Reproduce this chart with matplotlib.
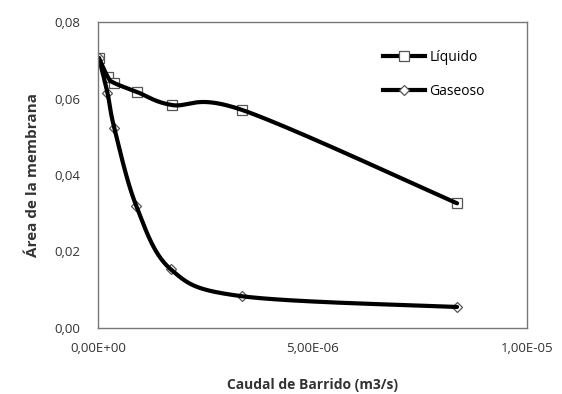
import numpy as np
import matplotlib
matplotlib.use("Agg")
import matplotlib.pyplot as plt
from matplotlib.lines import Line2D

# Data
caudal_liq = [2.0e-8, 2.3e-7, 3.7e-7, 9.1e-7, 1.72e-6, 3.36e-6, 8.37e-6]
area_liq = [0.0706, 0.0656, 0.0641, 0.0617, 0.0583, 0.0570, 0.0326]
caudal_gas = [2.0e-8, 2.2e-7, 3.8e-7, 8.9e-7, 1.70e-6, 3.36e-6, 8.37e-6]
area_gas = [0.0706, 0.0615, 0.0523, 0.0320, 0.0153, 0.0083, 0.0055]
xticks = [0, 5e-6, 1e-5]
xtick_labels = ["0,00E+00", "5,00E-06", "1,00E-05"]
yticks = [0, 0.02, 0.04, 0.06, 0.08]
ytick_labels = ["0,00", "0,02", "0,04", "0,06", "0,08"]
series_names = ["Líquido", "Gaseoso"]


def excel_smooth(x, y, n=80):
    P = np.column_stack([x, y]).astype(float)
    m = len(P)
    out = [P[0]]
    for i in range(m - 1):
        p0 = P[i - 1] if i > 0 else P[i]
        p1 = P[i]
        p2 = P[i + 1]
        p3 = P[i + 2] if i + 2 < m else P[i + 1]
        c1 = p1 + (p2 - p0) / 6.0
        c2 = p2 - (p3 - p1) / 6.0
        t = np.linspace(0, 1, n)[1:, None]
        seg = ((1 - t) ** 3) * p1 + 3 * ((1 - t) ** 2) * t * c1 + 3 * (1 - t) * t ** 2 * c2 + t ** 3 * p2
        out.extend(seg)
    out = np.array(out)
    return out[:, 0], out[:, 1]


plt.rcParams['font.family'] = ['Open Sans', 'DejaVu Sans']

W, H = 562, 394
fig = plt.figure(figsize=(W / 100, H / 100), dpi=100)
ax = fig.add_axes([98 / W, 1 - 328 / H, (527 - 98) / W, (328 - 22) / H])

lw = 3.0
mk_edge = '#555555'
sx, sy = excel_smooth(caudal_liq, area_liq)
ax.plot(sx, sy, color='black', lw=lw, zorder=2, solid_capstyle='round')
ax.plot(caudal_liq, area_liq, ls='none', marker='s', ms=7, mfc='white', mec=mk_edge, mew=0.9, zorder=1)

gx, gy = excel_smooth(caudal_gas, area_gas)
ax.plot(gx, gy, color='black', lw=lw, zorder=2, solid_capstyle='round')
ax.plot(caudal_gas, area_gas, ls='none', marker='D', ms=5.5, mfc='white', mec=mk_edge, mew=0.9, zorder=1)

ax.set_xlim(0, 1e-5)
ax.set_ylim(0, 0.08)
ax.set_xticks(xticks)
ax.set_xticklabels(xtick_labels)
ax.set_yticks(yticks)
ax.set_yticklabels(ytick_labels)
ax.tick_params(axis='both', length=0, labelsize=9.5, colors='#333333')
ax.tick_params(axis='x', pad=10)
ax.tick_params(axis='y', pad=13)
for s in ax.spines.values():
    s.set_color('#777777')
    s.set_linewidth(1.0)

ax.set_xlabel("Caudal de Barrido (m3/s)", fontsize=10, fontweight='bold', labelpad=17, color='#333333')
ax.set_ylabel("Área de la membrana", fontsize=11, fontweight='bold', labelpad=10, color='#333333')

handles = [
    Line2D([], [], color='black', lw=lw, marker='s', ms=7, mfc='white', mec=mk_edge, mew=0.9),
    Line2D([], [], color='black', lw=lw, marker='D', ms=5, mfc='white', mec=mk_edge, mew=0.9),
]
ax.legend(handles, series_names, loc='upper left', bbox_to_anchor=(383 / W, 1 - 50 / H),
          bbox_transform=fig.transFigure, frameon=False, borderpad=0, borderaxespad=0,
          fontsize=10, handlelength=3.0, handletextpad=0.35, labelspacing=1.35)

fig.savefig("out.png", dpi=100)
